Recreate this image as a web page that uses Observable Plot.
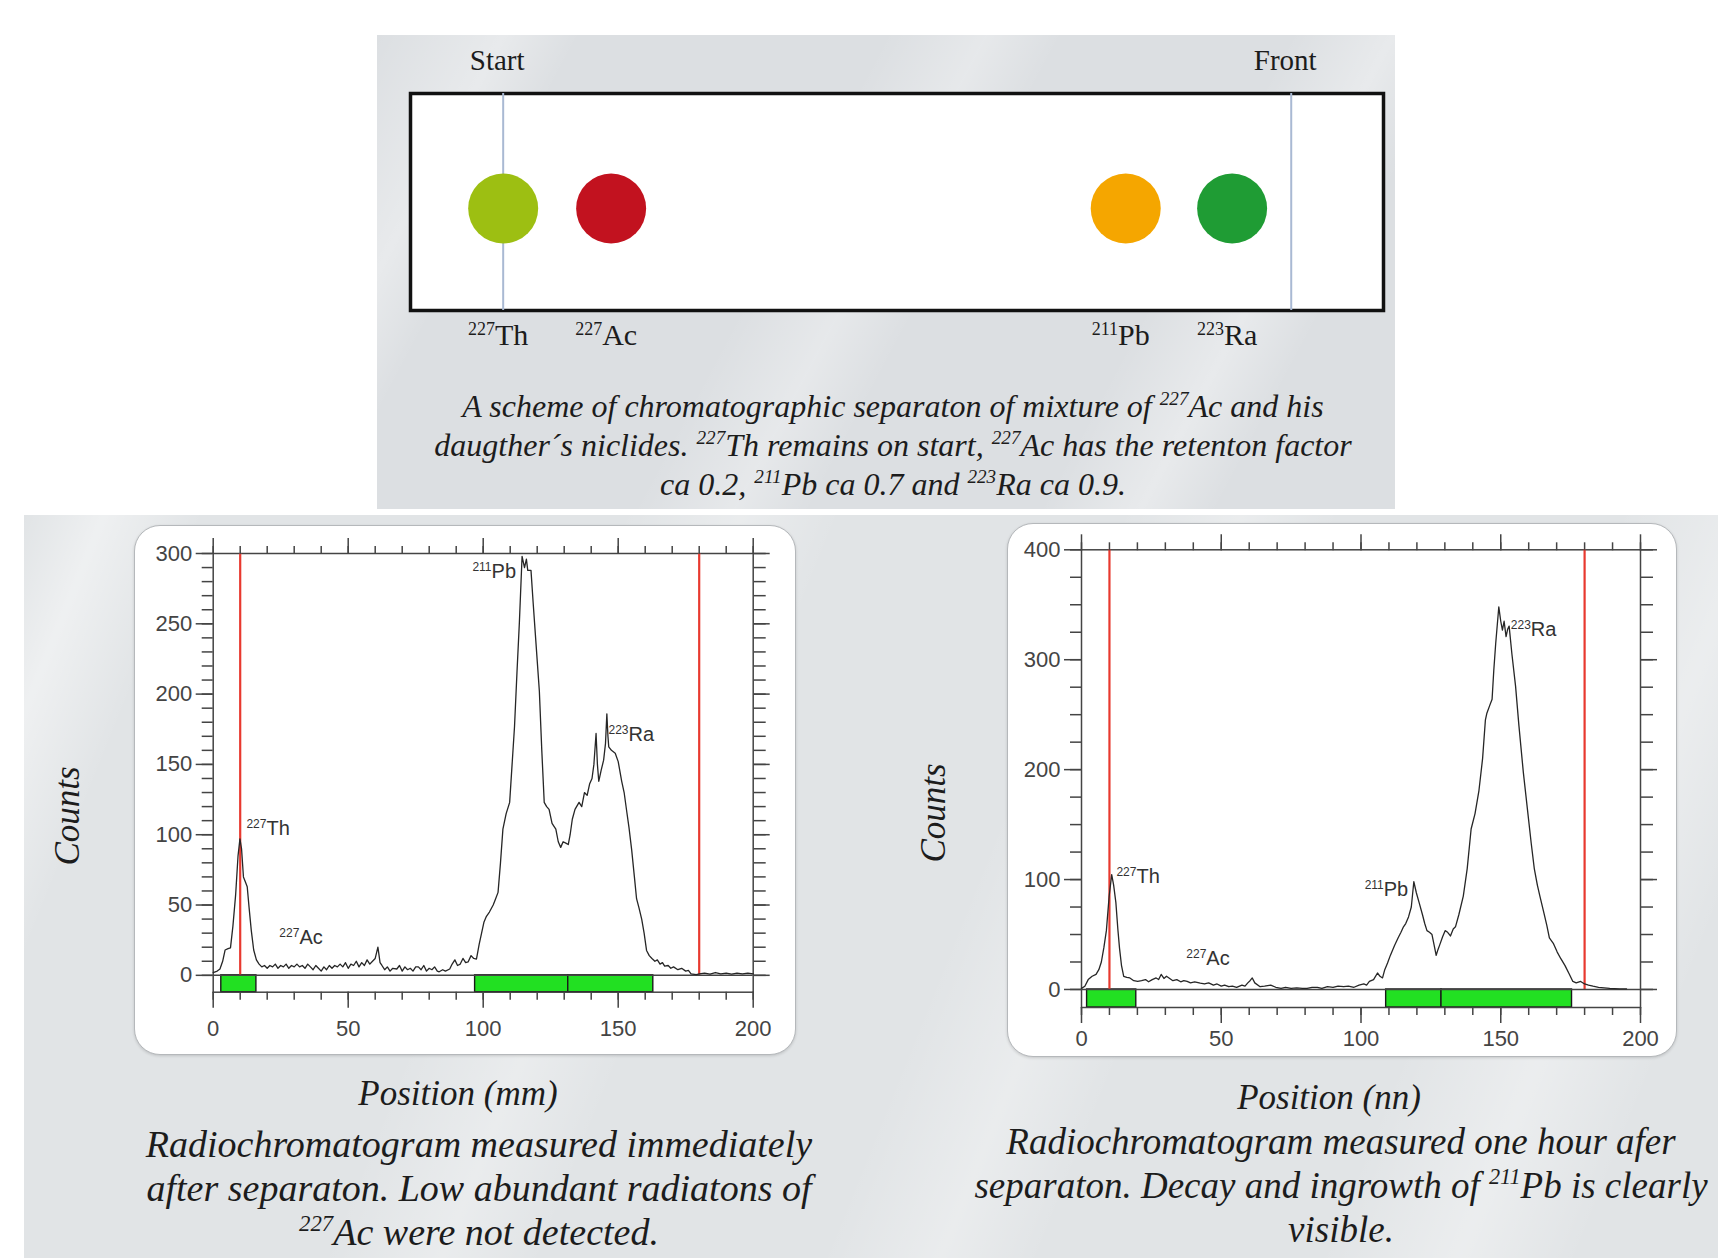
<!DOCTYPE html>
<html>
<head>
<meta charset="utf-8">
<script src="https://cdn.jsdelivr.net/npm/d3@7"></script>
<script src="https://cdn.jsdelivr.net/npm/@observablehq/plot@0.6"></script>
<style>
  body { margin:0; width:1718px; height:1258px; position:relative; overflow:hidden; background:#fff; font-family:"Liberation Serif", serif; }
  .abs { position:absolute; }
  .band { left:24px; top:515px; right:0; bottom:0;
    background:
      linear-gradient(112deg, rgba(255,255,255,0) 0%, rgba(255,255,255,.45) 4%, rgba(255,255,255,0) 9%,
        rgba(255,255,255,0) 30%, rgba(255,255,255,.30) 36%, rgba(255,255,255,0) 41%,
        rgba(255,255,255,0) 55%, rgba(255,255,255,.30) 61%, rgba(255,255,255,0) 66%,
        rgba(255,255,255,0) 80%, rgba(255,255,255,.35) 87%, rgba(255,255,255,0) 93%),
      #e1e4e6; }
  .panel { left:377px; top:35px; width:1018px; height:474px;
    background:
      linear-gradient(118deg, rgba(255,255,255,0) 0%, rgba(255,255,255,.35) 10%, rgba(255,255,255,0) 16%,
        rgba(255,255,255,0) 40%, rgba(255,255,255,.30) 48%, rgba(255,255,255,0) 54%,
        rgba(255,255,255,0) 72%, rgba(255,255,255,.35) 80%, rgba(255,255,255,0) 86%),
      #dcdfe2; }
  .box { background:#fff; border:1.5px solid #b5b8bb; border-radius:26px; box-sizing:border-box;
    box-shadow:0 1px 3px rgba(0,0,0,.15); }
  .cap { font-style:italic; color:#1c1c1c; text-align:center; white-space:nowrap; transform:translateX(-50%); }
  .cap sup { font-size:0.6em; vertical-align:0; position:relative; top:-0.62em; line-height:0; }
  .counts { font-style:italic; color:#1c1c1c; font-size:35px; white-space:nowrap; transform:translate(-50%,-50%) rotate(-90deg); }
  .plot { position:absolute; }
</style>
</head>
<body>
<div class="abs band"></div>
<div class="abs panel"></div>
<div id="scheme" class="plot" style="left:377px; top:35px;"></div>
<div class="abs cap" style="left:893px; top:387px; font-size:32px; line-height:39px;">
  A scheme of chromatographic separaton of mixture of <sup>227</sup>Ac and his<br>
  daugther´s niclides. <sup>227</sup>Th remains on start, <sup>227</sup>Ac has the retenton factor<br>
  ca 0.2, <sup>211</sup>Pb ca 0.7 and <sup>223</sup>Ra ca 0.9.
</div>

<div class="abs box" style="left:134px; top:525px; width:662px; height:530px;"></div>
<div id="chartL" class="plot" style="left:134px; top:525px;"></div>
<div class="abs box" style="left:1007px; top:523px; width:670px; height:534px;"></div>
<div id="chartR" class="plot" style="left:1007px; top:523px;"></div>

<div class="abs counts" style="left:68px; top:816px;">Counts</div>
<div class="abs counts" style="left:934px; top:813px;">Counts</div>
<div class="abs cap" style="left:458px; top:1074px; font-size:35px; line-height:40px;">Position (mm)</div>
<div class="abs cap" style="left:1329px; top:1078px; font-size:35px; line-height:40px;">Position (nn)</div>
<div class="abs cap" style="left:479px; top:1122px; font-size:38px; line-height:44px;">
  Radiochromatogram measured immediately<br>
  after separaton. Low abundant radiatons of<br>
  <sup>227</sup>Ac were not detected.
</div>
<div class="abs cap" style="left:1341px; top:1120px; font-size:37px; line-height:44px;">
  Radiochromatogram measured one hour afer<br>
  separaton. Decay and ingrowth of <sup>211</sup>Pb is clearly<br>
  visible.
</div>

<script>
// ---------- Scheme (thin-layer strip) ----------
const spotNames  = ["227|Th", "227|Ac", "211|Pb", "223|Ra"];
const spotRf     = [0, 0.137, 0.79, 0.925];
const spotColors = ["#9dbf12", "#c2121f", "#f5a600", "#1f9c34"];
const markNames  = ["Start", "Front"];
const markRf     = [0, 1];

// ---------- Radiochromatogram 1: immediately after separation ----------
const posL = [0,1.5,2.5,3.5,4.4,5.5,6.4,7.3,8.3,9.2,9.9,10.5,11.2,12,12.6,13.3,14.1,15,16,17,18,19,20,21,22,23,24,25,26,27,28,29,30,31,32,33,34,35,36,37,38,39,40,41,42,43,44,45,46,47,48,49,50,51,52,53,54,55,56,57,58,59,60,61,61.8,62.5,63.5,64.5,65.5,66.5,68,69,70,71,72,73,74,75,76,77,78,79,80,81,82,83,83.7,85,86,87.6,88.5,89.5,90.5,91.5,92.5,93.5,94.4,95.5,96.5,97.5,98.5,99.4,100.3,101.2,102.3,103.7,104.5,105.5,106.4,107.3,108.5,109.8,110.7,111.6,112.5,113.4,114.4,115.3,116,116.5,117.7,118.5,119.3,120.8,121.7,122.6,123.5,124.4,125.5,126.9,127.8,128.7,129.6,130.6,131.5,132.2,133,134,135.5,136.5,137.5,138.5,139.4,140.3,141,141.8,142.3,142.8,143.7,144.6,145.3,145.8,146.2,146.5,147.5,148.9,150,151.3,152.2,153.2,154,155,156,156.8,157.7,158.7,159.6,160.5,161.5,162.5,163.6,164.5,165.5,166.4,167.2,168.5,169.5,170.5,172.1,173.5,175,176,177,178.9,180,182,184,186,188,190,192,194,196,198,200];
const cntL = [2,3,4.5,10,18,19,19.5,35,57,85,97,90,70,66,63,48,32,18,11,8,6,7,5,7,6,8,5,7,6,8,5,7,6,8,6,7,5,8,6,4,7,5,3,6,4,7,5,7,6,8,6,9,5,8,7,10,6,9,7,11,8,10,12,20,9,7,4,6,3,5,4.5,7,3,6,4,5,3,6,6,4,7,3,5,4,6,3,2.5,4,3,4.5,8,11,7,8,12,9,9.5,14,12,11.5,22,30,38,42,45,50,54,59,80,104,115,123,150,177,215,251,298,290,296,288,288,265,243,202,160,123,120,118,108,104,95,91,95,94,93,100,111,118,123,120,130,128,136,140,150,172,150,138,146,153,165,186,170,162.5,160,158,152,138,130,116,105,89,70,54.5,48,40,30,17.7,14,12,10,11,8,9,6.6,7,5,6,4,5,3,3.5,1,0.5,1,1.5,0.8,2,1,1.5,0.8,1.5,1,1.5,1];
const redLinesL   = [10, 180];
const barStartL   = [3, 97, 131.5];
const barEndL     = [16, 131.5, 163];
const peakNamesL  = ["227|Th", "227|Ac", "211|Pb", "223|Ra"];
const peakXL      = [12.3, 24.5, 96, 146.4];
const peakYL      = [104, 27, 287, 171];

// ---------- Radiochromatogram 2: one hour after separation ----------
const posR = [0,1.2,2.4,3.8,5.2,6.2,7.1,8,8.9,9.9,10.8,11.5,12.3,13,13.6,14.3,15.1,16.2,17.3,18.7,20.1,21.5,22.9,24,25.3,26.7,27.6,28.5,29.5,30.4,31.3,32.7,34.1,35.5,36.6,37.8,39,40.5,42.5,44,45.5,47.2,48.5,50,51.2,52.7,54,55.5,57.4,58.5,59.5,60.3,61.1,62,63.9,65.5,67.7,69.5,71.4,73,75,77,79,80.7,82.5,84.4,86,88,90,91.8,93.8,95.5,97.5,99.3,101,102,103,104.5,105.9,106.8,107.7,108.5,109.5,110.5,112,113.3,114.3,115.2,116,117,118,118.9,119.8,120.8,122,122.8,123.6,124.5,125.4,126.2,126.9,127.5,128.2,129.2,130.1,131,132,133,133.8,135,136.6,138,139.4,140.8,142.2,143.5,144.5,145,146,146.9,147.5,148.2,149.3,150,150.6,151.2,151.9,152.5,153,154,155.3,156.5,158.1,159.5,160.9,162,163.1,164,165.5,166.5,167.4,168.8,170.2,171.5,173,174.5,175.8,177,178.6,180,181.4,183,185,187,189,192.5,195];
const cntR = [1,3,9,12,13.7,18,25,38,53.5,85,104.5,95,79,55,37.6,22,12,11,10.5,8,7.3,8,9,7,9,10.5,9,13.7,10,12,10.5,8,9,7,8,7.3,6,7,5.7,5,6,4,5,3,4,2.5,3,2,4,3,6,8,10.5,6,2.5,3,4,2,1,2,1,1.5,1,1,2,2,1,2.5,2,3,2.5,3,2,4,5,4,7.3,9,15,12,10.5,18,24,31,40,47,52,57,60,66,75,98,88,79,68,60,53.5,52,50,40,31,36,40.8,48,53.5,52,48.7,55,57,68,85,110,146,160,181,210,245,251,258,264,290,315,348,335,327,335,321,328,330.6,305,276,240,197,165,133,110,95,85,69,58,47,42,34,28,21.7,14,7.3,6,7.3,5,4,3,2,1.5,1,0.6,0.5];
const redLinesR   = [10, 180];
const barStartR   = [2, 109, 128.8];
const barEndR     = [19.6, 128.8, 175.5];
const peakNamesR  = ["227|Th", "227|Ac", "211|Pb", "223|Ra"];
const peakXR      = [12.5, 37.5, 101.3, 153.6];
const peakYR      = [103, 28, 91, 327];

// axis tick values
const xMajorTicks  = [0, 50, 100, 150, 200];
const yMajorTicksL = [0, 50, 100, 150, 200, 250, 300];
const yMajorTicksR = [0, 100, 200, 300, 400];

const SVGNS = "http://www.w3.org/2000/svg";
function superscripts(svg, supSize, rise) {
  svg.querySelectorAll("text").forEach(t => {
    const s = t.textContent;
    if (!s.includes("|")) return;
    const [a, b] = s.split("|");
    while (t.firstChild) t.removeChild(t.firstChild);
    const t1 = document.createElementNS(SVGNS, "tspan");
    t1.setAttribute("font-size", supSize);
    t1.setAttribute("dy", -rise);
    t1.textContent = a;
    const t2 = document.createElementNS(SVGNS, "tspan");
    t2.setAttribute("dy", rise);
    t2.textContent = b;
    t.append(t1, t2);
  });
}

// ---- scheme plot
const spots = spotNames.map((n, i) => ({name: n, rf: spotRf[i], color: spotColors[i]}));
const marksTop = markNames.map((n, i) => ({name: n, rf: markRf[i]}));
const scheme = Plot.plot({
  width: 1018, height: 474,
  marginLeft: 33, marginRight: 12, marginTop: 58, marginBottom: 199,
  x: {domain: [-0.1176, 1.1171], axis: null},
  y: {domain: [0, 1], axis: null},
  color: {type: "identity"},
  style: {background: "transparent", overflow: "visible", fontFamily: "Liberation Serif, serif", color: "#1c1c1c"},
  marks: [
    Plot.frame({fill: "white", stroke: "#111", strokeWidth: 3.5}),
    Plot.ruleX(marksTop, {x: "rf", stroke: "#a9b9d3", strokeWidth: 2}),
    Plot.dot(spots, {x: "rf", y: 0.47, r: 35, fill: "color", stroke: "none"}),
    Plot.text(marksTop, {x: "rf", y: 1, dy: -33, dx: -6, text: "name", fontSize: 29}),
    Plot.text(spots, {x: "rf", y: 0, dy: 25, dx: -5, text: "name", fontSize: 30})
  ]
});
superscripts(scheme, 18, 10);
document.getElementById("scheme").append(scheme);

// ---- chromatogram builder
function chromatogram({pos, cnt, yMin, yMax, yMinorStep, yMajor, barS, barE, red, names, px, py,
                       width, height, mL, mR, mT, mB, xPad}) {
  const series = pos.map((p, i) => ({x: p, y: cnt[i]}));
  const bars = barS.map((s, i) => ({s, e: barE[i]}));
  const labels = names.map((n, i) => ({n, x: px[i], y: py[i]}));
  const xMinor = d3.range(0, 201, 10);
  const yMinor = d3.range(0, yMax + 1, yMinorStep);
  const blank = () => "";
  const ax = {label: null, color: "#444", strokeWidth: 1.5};
  const svg = Plot.plot({
    width, height, marginLeft: mL, marginRight: mR, marginTop: mT, marginBottom: mB,
    x: {domain: [0, 200], axis: null},
    y: {domain: [yMin, yMax], axis: null},
    style: {background: "transparent", overflow: "visible", fontFamily: "Liberation Sans, Arial, sans-serif", color: "#333"},
    marks: [
      Plot.rect(bars, {x1: "s", x2: "e", y1: yMin, y2: 0, fill: "#22e022", stroke: "#1a1a1a", strokeWidth: 1.4}),
      Plot.frame({stroke: "#444", strokeWidth: 1.5}),
      Plot.ruleX(red, {y1: 0, y2: yMax, stroke: "#e8392f", strokeWidth: 2.2}),
      Plot.ruleY([0], {stroke: "#444", strokeWidth: 1.5}),
      Plot.line(series, {x: "x", y: "y", stroke: "#262626", strokeWidth: 1.3}),
      Plot.text(labels, {x: "x", y: "y", text: "n", textAnchor: "start", fontSize: 20, fill: "#333"}),
      Plot.axisY(yMinor, {...ax, anchor: "left", tickSize: 11, tickFormat: blank}),
      Plot.axisY(yMajor, {...ax, anchor: "left", tickSize: 17, tickPadding: 4, fontSize: 22}),
      Plot.axisY(yMinor, {...ax, anchor: "right", tickSize: 12, tickFormat: blank}),
      Plot.axisY(yMajor, {...ax, anchor: "right", tickSize: 16, tickFormat: blank}),
      Plot.axisX(xMinor, {...ax, anchor: "top", tickSize: 8, tickFormat: blank}),
      Plot.axisX(xMajorTicks, {...ax, anchor: "top", tickSize: 16, tickFormat: blank}),
      Plot.axisX(xMinor, {...ax, anchor: "bottom", tickSize: 8, tickFormat: blank}),
      Plot.axisX(xMajorTicks, {...ax, anchor: "bottom", tickSize: 16, tickPadding: xPad, fontSize: 22})
    ]
  });
  superscripts(svg, 12, 7);
  return svg;
}

document.getElementById("chartL").append(chromatogram({
  pos: posL, cnt: cntL, yMin: -12, yMax: 300, yMinorStep: 10, yMajor: yMajorTicksL,
  barS: barStartL, barE: barEndL, red: redLinesL, names: peakNamesL, px: peakXL, py: peakYL,
  width: 662, height: 530, mL: 78.7, mR: 43.3, mT: 28, mB: 63.3, xPad: 12
}));
document.getElementById("chartR").append(chromatogram({
  pos: posR, cnt: cntR, yMin: -16.4, yMax: 400, yMinorStep: 25, yMajor: yMajorTicksR,
  barS: barStartR, barE: barEndR, red: redLinesR, names: peakNamesR, px: peakXR, py: peakYR,
  width: 670, height: 534, mL: 74, mR: 37, mT: 26.3, mB: 50, xPad: 7
}));
</script>
</body>
</html>
